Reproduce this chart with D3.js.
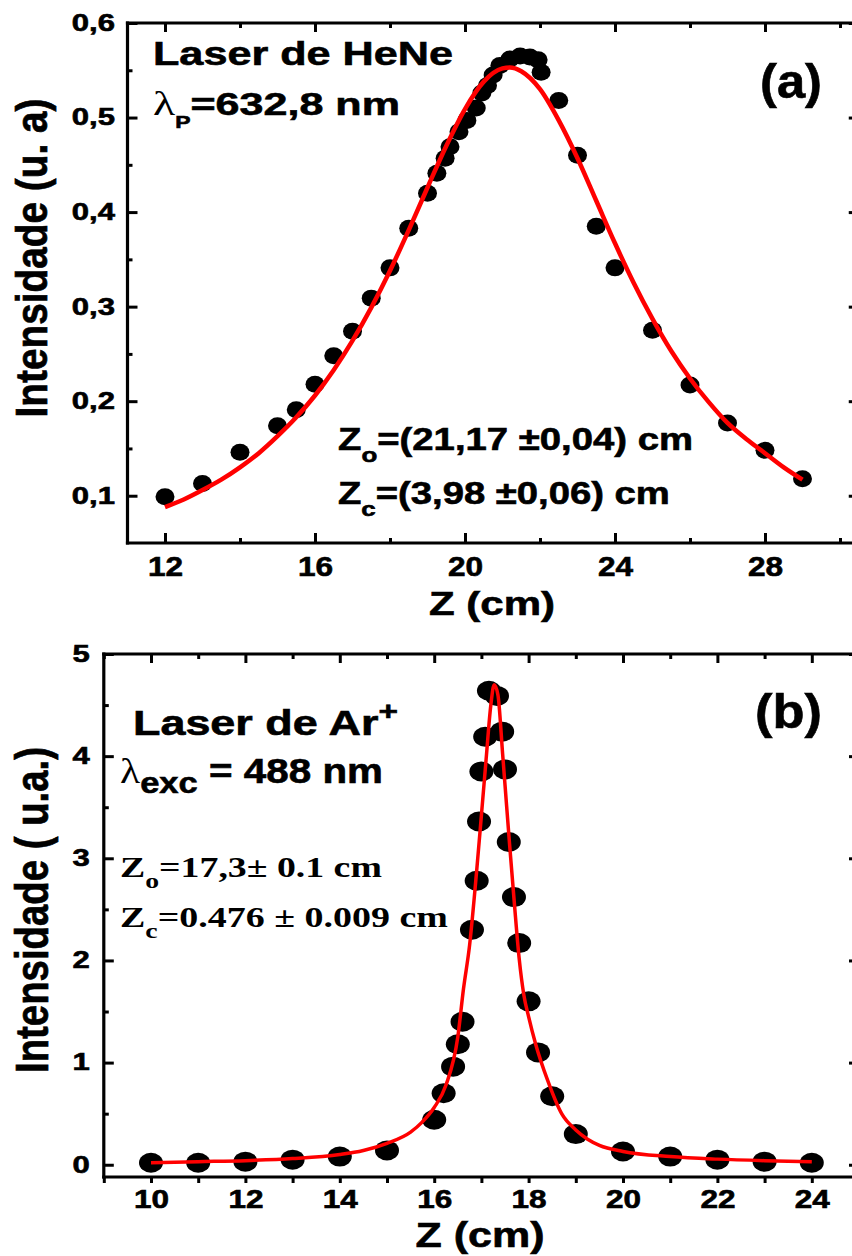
<!DOCTYPE html>
<html>
<head>
<meta charset="utf-8">
<script src="https://cdn.jsdelivr.net/npm/d3@7"></script>
<style>
  body { margin: 0; background: #fff; }
  svg { display: block; }
</style>
</head>
<body>
<div id="chart"></div>
<script>
// (a) Laser de HeNe - pontos medidos
const zHeNe = [12, 13, 14, 15, 15.5, 16, 16.5, 17, 17.5, 18, 18.5, 19, 19.25, 19.47, 19.6, 19.84,
  20.05, 20.3, 20.45, 20.6, 20.75, 20.93, 21.2, 21.47, 21.73, 21.95, 22.03, 22.5, 23, 23.5, 24,
  25, 26, 27, 28, 29];
const iHeNe = [0.099, 0.113, 0.146, 0.174, 0.191, 0.218, 0.248, 0.274, 0.309, 0.341, 0.383, 0.420,
  0.441, 0.457, 0.469, 0.485, 0.497, 0.510, 0.526, 0.534, 0.545, 0.555, 0.562, 0.565, 0.564, 0.561,
  0.548, 0.518, 0.460, 0.385, 0.341, 0.275, 0.217, 0.177, 0.148, 0.118];

// (a) curva de ajuste
const fitZHeNe = [12, 12.5, 13, 13.5, 14, 14.5, 15, 15.5, 16, 16.5, 17, 17.5, 18, 18.5, 19, 19.5,
  20, 20.5, 21, 21.2, 21.5, 22, 22.5, 23, 23.5, 24, 24.5, 25, 25.5, 26, 26.5, 27, 27.5, 28, 28.5, 29];
const fitIHeNe = [0.088, 0.096, 0.106, 0.117, 0.130, 0.145, 0.163, 0.183, 0.206, 0.233, 0.264, 0.299,
  0.338, 0.381, 0.426, 0.470, 0.509, 0.538, 0.552, 0.553, 0.549, 0.530, 0.497, 0.457, 0.412, 0.367,
  0.325, 0.287, 0.253, 0.224, 0.199, 0.177, 0.160, 0.145, 0.130, 0.117];

// (b) Laser de Ar+ - pontos medidos
const zAr = [10, 11, 12, 13, 14, 15, 16, 16.2, 16.4, 16.5, 16.6, 16.8, 16.9, 16.95, 17.0, 17.08,
  17.16, 17.33, 17.44, 17.5, 17.58, 17.69, 17.8, 18, 18.2, 18.5, 19, 20, 21, 22, 23, 24];
const iAr = [0.02, 0.02, 0.03, 0.05, 0.08, 0.14, 0.44, 0.70, 0.96, 1.18, 1.40, 2.30, 2.78, 3.36,
  3.85, 4.19, 4.64, 4.59, 4.24, 3.87, 3.16, 2.62, 2.17, 1.60, 1.10, 0.67, 0.30, 0.13, 0.08, 0.05,
  0.03, 0.02];

// (b) curva de ajuste
const fitZAr = [10, 11, 12, 13, 14, 14.5, 15, 15.5, 15.75, 16, 16.25, 16.5, 16.62, 16.75, 16.9, 17.0,
  17.1, 17.2, 17.27, 17.35, 17.45, 17.5, 17.6, 17.7, 17.8, 17.9, 18.0, 18.15, 18.4, 18.7, 19.0,
  19.25, 19.5, 20, 21, 22, 23, 24];
const fitIAr = [0.02, 0.03, 0.04, 0.06, 0.10, 0.14, 0.21, 0.32, 0.42, 0.56, 0.78, 1.25, 1.72, 2.15,
  2.88, 3.42, 3.97, 4.50, 4.70, 4.60, 4.02, 3.72, 3.12, 2.55, 2.02, 1.66, 1.45, 1.18, 0.83, 0.50,
  0.34, 0.25, 0.19, 0.13, 0.08, 0.055, 0.04, 0.03];

// ticks
const xMajorHeNe = [12, 16, 20, 24, 28];
const xMinorHeNe = [14, 18, 22, 26, 30];
const yMajorHeNe = [0.1, 0.2, 0.3, 0.4, 0.5, 0.6];
const yMinorHeNe = [0.15, 0.25, 0.35, 0.45, 0.55];
const xMajorAr = [10, 12, 14, 16, 18, 20, 22, 24];
const xMinorAr = [9, 11, 13, 15, 17, 19, 21, 23, 25];
const yMajorAr = [0, 1, 2, 3, 4, 5];
const yMinorAr = [0.5, 1.5, 2.5, 3.5, 4.5];

const SANS = "'Liberation Sans', Arial, Helvetica, sans-serif";
const SERIF = "'Liberation Serif', 'Times New Roman', serif";
const HEAVY = 0.6; // contorno extra para engrossar o negrito

const svg = d3.select("#chart").append("svg")
  .attr("width", 852)
  .attr("height", 1256);

// alarga o texto na horizontal (a figura original está esticada)
function stretchText(sel, k) {
  sel.each(function() {
    const w = this.getComputedTextLength();
    d3.select(this).attr("textLength", w * k).attr("lengthAdjust", "spacingAndGlyphs");
  });
}

function drawPanel(p) {
  const x = d3.scaleLinear().domain(p.xDomain).range(p.xRange);
  const y = d3.scaleLinear().domain(p.yDomain).range(p.yRange);
  const [xl, xr] = p.xRange;
  const [yb, yt] = p.yRange;
  const g = svg.append("g");

  // pontos
  g.append("g").selectAll("ellipse")
    .data(p.z.map((z, i) => [z, p.v[i]]))
    .join("ellipse")
    .attr("cx", d => x(d[0]))
    .attr("cy", d => y(d[1]))
    .attr("rx", p.rx)
    .attr("ry", p.ry)
    .attr("fill", "#000");

  // ajuste
  const line = d3.line()
    .x(d => x(d[0]))
    .y(d => y(d[1]))
    .curve(d3.curveMonotoneX);
  g.append("path")
    .datum(p.fitZ.map((z, i) => [z, p.fitV[i]]))
    .attr("fill", "none")
    .attr("stroke", "#ff0000")
    .attr("stroke-width", p.lineW)
    .attr("d", line);

  // eixos
  const axes = [
    {gen: d3.axisBottom, tr: `translate(0,${yb})`, s: x, major: p.xMajor, minor: p.xMinor, size: p.bottomTicks, lab: p.xLab},
    {gen: d3.axisTop, tr: `translate(0,${yt})`, s: x, major: p.xMajor, minor: p.xMinor, size: [-9, -5]},
    {gen: d3.axisLeft, tr: `translate(${xl},0)`, s: y, major: p.yMajor, minor: p.yMinor, size: [-10, -5], lab: p.yLab},
    {gen: d3.axisRight, tr: `translate(${xr},0)`, s: y, major: p.yMajor, minor: p.yMinor, size: [-10, -5]}
  ];
  axes.forEach(a => {
    const minorAxis = g.append("g").attr("transform", a.tr)
      .call(a.gen(a.s).tickValues(a.minor).tickSize(a.size[1]).tickFormat(""));
    const majorAxis = g.append("g").attr("transform", a.tr)
      .call(a.gen(a.s).tickValues(a.major).tickSize(a.size[0])
        .tickPadding(a.lab ? a.lab.pad : 0)
        .tickFormat(a.lab ? a.lab.fmt : ""));
    [minorAxis, majorAxis].forEach(ax => {
      ax.select(".domain").remove();
      ax.selectAll("line").attr("stroke", "#000").attr("stroke-width", 3);
    });
    if (a.lab) {
      majorAxis.selectAll("text")
        .attr("fill", "#000")
        .attr("stroke", "#000")
        .attr("stroke-width", HEAVY)
        .attr("font-family", SANS)
        .attr("font-weight", "bold")
        .attr("font-size", a.lab.size)
        .call(stretchText, a.lab.k);
    } else {
      majorAxis.selectAll("text").remove();
    }
  });

  // moldura
  const frame = g.append("g").attr("stroke", "#000").attr("stroke-width", 3.2).attr("stroke-linecap", "square");
  frame.append("line").attr("x1", xl).attr("x2", xr).attr("y1", yb).attr("y2", yb);
  frame.append("line").attr("x1", xl).attr("x2", xr).attr("y1", yt).attr("y2", yt);
  frame.append("line").attr("x1", xl).attr("x2", xl).attr("y1", yt).attr("y2", yb);
  frame.append("line").attr("x1", xr).attr("x2", xr).attr("y1", yt).attr("y2", yb);
}

function label(x, y, parts, o) {
  const t = svg.append("text")
    .attr("font-family", o.family || SANS)
    .attr("font-weight", o.weight || "bold")
    .attr("font-size", o.size)
    .attr("fill", "#000")
    .attr("stroke", o.family === SERIF ? null : "#000")
    .attr("stroke-width", o.family === SERIF ? null : HEAVY);
  parts.forEach(p => {
    const ts = t.append("tspan").text(p.t).attr("dy", p.dy || 0);
    if (p.size) ts.attr("font-size", p.size);
    if (p.family) ts.attr("font-family", p.family).attr("stroke", "none");
    if (p.weight) ts.attr("font-weight", p.weight);
  });
  const bb = t.node().getBBox();
  const k = o.width / bb.width;
  const left = o.anchor === "middle" ? x - o.width / 2 : x;
  t.attr("transform", `translate(${left - bb.x * k},${y}) scale(${k},1)`);
}

function yTitle(bx, cy, text, size, len, sy) {
  const t = svg.append("text")
    .attr("font-family", SANS)
    .attr("font-weight", "bold")
    .attr("font-size", size)
    .attr("text-anchor", "middle")
    .attr("fill", "#000")
    .attr("stroke", "#000")
    .attr("stroke-width", HEAVY)
    .text(text);
  const w = t.node().getComputedTextLength();
  t.attr("transform", `translate(${bx},${cy}) rotate(-90) scale(${len / w},${sy})`);
}

// painel (a)
drawPanel({
  z: zHeNe, v: iHeNe, fitZ: fitZHeNe, fitV: fitIHeNe,
  xDomain: [11, 30.5], xRange: [127.5, 858.75],
  yDomain: [0.05, 0.6], yRange: [543, 23],
  xMajor: xMajorHeNe, xMinor: xMinorHeNe, yMajor: yMajorHeNe, yMinor: yMinorHeNe,
  bottomTicks: [-10, -5],
  xLab: {size: 27, k: 1.17, pad: 14, fmt: d3.format("d")},
  yLab: {size: 23, k: 1.35, pad: 12.5, fmt: d => d3.format(".1f")(d).replace(".", ",")},
  rx: 9.5, ry: 8.5, lineW: 4.5
});

// painel (b)
drawPanel({
  z: zAr, v: iAr, fitZ: fitZAr, fitV: fitIAr,
  xDomain: [9, 25], xRange: [103.8, 859],
  yDomain: [-0.12, 5], yRange: [1177, 654],
  xMajor: xMajorAr, xMinor: xMinorAr, yMajor: yMajorAr, yMinor: yMinorAr,
  bottomTicks: [6, 6],
  xLab: {size: 25, k: 1.26, pad: 7, fmt: d3.format("d")},
  yLab: {size: 23, k: 1.35, pad: 14, fmt: d3.format("d")},
  rx: 12, ry: 10, lineW: 3.5
});

// títulos dos eixos
label(492, 615, [{t: "Z (cm)"}], {size: 34, width: 126, anchor: "middle"});
label(480, 1247, [{t: "Z (cm)"}], {size: 35, width: 129, anchor: "middle"});
yTitle(47, 258, "Intensidade (u. a)", 38, 319, 1.17);
yTitle(48, 910, "Intensidade ( u.a.)", 38, 326, 1.2);

// anotações (a)
label(153, 65, [{t: "Laser de HeNe"}], {size: 34, width: 300});
label(153, 115, [
  {t: "λ", family: SERIF, weight: "normal", size: 34},
  {t: "P", size: 17, dy: 13},
  {t: "=632,8 nm", dy: -13}
], {size: 32, width: 247});
label(760, 98, [{t: "(a)"}], {size: 48, width: 62});
label(338, 450, [
  {t: "Z"}, {t: "o", size: 21, dy: 12}, {t: "=(21,17 ±0,04) cm", dy: -12}
], {size: 31, width: 355});
label(338, 504, [
  {t: "Z"}, {t: "c", size: 21, dy: 12}, {t: "=(3,98 ±0,06) cm", dy: -12}
], {size: 31, width: 332});

// anotações (b)
label(133, 735, [{t: "Laser de Ar"}, {t: "+", size: 26, dy: -15}], {size: 35, width: 265});
label(120, 783, [
  {t: "λ", family: SERIF, weight: "normal", size: 36},
  {t: "exc", size: 30, dy: 10},
  {t: " = 488 nm", dy: -10}
], {size: 35, width: 263});
label(120, 877, [
  {t: "Z"}, {t: "o", size: 22, dy: 11}, {t: "=17,3± 0.1 cm", dy: -11}
], {size: 30, width: 262, family: SERIF});
label(120, 927, [
  {t: "Z"}, {t: "c", size: 22, dy: 11}, {t: "=0.476 ± 0.009 cm", dy: -11}
], {size: 30, width: 328, family: SERIF});
label(755, 728, [{t: "(b)"}], {size: 48, width: 67});
</script>
</body>
</html>
